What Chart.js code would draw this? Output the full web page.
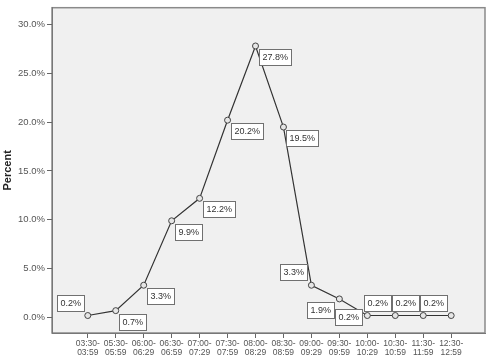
<!DOCTYPE html>
<html>
<head>
<meta charset="utf-8">
<script src="https://cdn.jsdelivr.net/npm/chart.js@4"></script>
<style>
  html, body { margin: 0; padding: 0; background: #fff; }
  #wrap { width: 490px; height: 360px; }
</style>
</head>
<body>
<div id="wrap"><canvas id="grafico"></canvas></div>
<script>
// dados
const inicio = ["03:30", "05:30", "06:00", "06:30", "07:00", "07:30", "08:00", "08:30", "09:00", "09:30", "10:00", "10:30", "11:30", "12:30"];
const fim = ["03:59", "05:59", "06:29", "06:59", "07:29", "07:59", "08:29", "08:59", "09:29", "09:59", "10:29", "10:59", "11:59", "12:59"];
const percentuais = [0.2, 0.7, 3.3, 9.9, 12.2, 20.2, 27.8, 19.5, 3.3, 1.9, 0.2, 0.2, 0.2, 0.2];
const ticksY = [0, 5, 10, 15, 20, 25, 30];

// posição de cada rótulo em relação ao ponto
const ladoRotulo = ["nw", "se", "se", "se", "se", "se", "se", "se", "nw", "sw", "w", "nw", "nw", "nw"];

const fonte = "'Liberation Sans', Arial, sans-serif";

const fundoPlot = {
  id: "fundoPlot",
  beforeDraw(chart) {
    const { ctx, chartArea: a } = chart;
    ctx.save();
    ctx.fillStyle = "#f0f0f0";
    ctx.fillRect(a.left, a.top, a.right - a.left, a.bottom - a.top);
    ctx.strokeStyle = "#8a8a8a";
    ctx.lineWidth = 1.5;
    ctx.strokeRect(a.left, a.top, a.right - a.left, a.bottom - a.top);
    ctx.restore();
  }
};

const rotulos = {
  id: "rotulos",
  afterDatasetsDraw(chart) {
    const { ctx } = chart;
    const meta = chart.getDatasetMeta(0);
    ctx.save();
    ctx.font = "9px " + fonte;
    ctx.textBaseline = "middle";
    ctx.textAlign = "left";
    meta.data.forEach((p, i) => {
      const txt = percentuais[i].toFixed(1) + "%";
      const w = Math.round(ctx.measureText(txt).width) + 6;
      const h = 16;
      const lado = ladoRotulo[i];
      let x, y;
      if (lado === "se") { x = p.x + 3; y = p.y + 3; }
      else if (lado === "nw") { x = p.x - 4 - w; y = p.y - 5 - h; }
      else if (lado === "sw") { x = p.x - 5 - w; y = p.y + 3; }
      else { x = p.x - 5 - w; y = p.y - 7; }
      x = Math.round(x) + 0.5;
      y = Math.round(y) + 0.5;
      ctx.fillStyle = "#ffffff";
      ctx.fillRect(x, y, w, h);
      ctx.strokeStyle = "#707070";
      ctx.lineWidth = 1;
      ctx.strokeRect(x, y, w, h);
      ctx.fillStyle = "#333333";
      ctx.fillText(txt, x + 3, y + h / 2 + 0.5);
    });
    ctx.restore();
  }
};

const ctx = document.getElementById("grafico").getContext("2d");
new Chart(ctx, {
  type: "line",
  data: {
    datasets: [{
      data: percentuais.map((v, i) => ({ x: i, y: v })),
      borderColor: "#333333",
      borderWidth: 1.2,
      pointRadius: 3,
      pointBorderWidth: 1,
      pointBorderColor: "#444444",
      pointBackgroundColor: "#e6e6e6",
      tension: 0,
      fill: false
    }]
  },
  options: {
    responsive: true,
    maintainAspectRatio: false,
    animation: false,
    layout: { padding: { top: 4, right: 3, left: 1, bottom: 0 } },
    plugins: {
      legend: { display: false },
      tooltip: { enabled: false }
    },
    scales: {
      x: {
        type: "linear",
        min: -1.28,
        max: 14.21,
        afterBuildTicks: s => { s.ticks = inicio.map((_, i) => ({ value: i })); },
        afterFit: s => { s.height = 27; },
        grid: { drawOnChartArea: false, drawTicks: true, tickLength: 5, color: "#666" },
        border: { display: true, color: "#777", width: 1 },
        ticks: {
          autoSkip: false,
          maxRotation: 0,
          padding: 1,
          color: "#555",
          font: { family: fonte, size: 8.5, lineHeight: 1.05 },
          callback: v => [inicio[v] + "-", fim[v]]
        }
      },
      y: {
        min: -1.59,
        max: 31.72,
        afterBuildTicks: s => { s.ticks = ticksY.map(v => ({ value: v })); },
        afterFit: s => { s.width = 51; },
        grid: { drawOnChartArea: false, drawTicks: true, tickLength: 5, color: "#666" },
        border: { display: true, color: "#777", width: 1 },
        ticks: {
          padding: 2,
          color: "#555",
          font: { family: fonte, size: 9.5 },
          callback: v => v.toFixed(1) + "%"
        },
        title: {
          display: true,
          text: "Percent",
          color: "#222",
          padding: 0,
          font: { family: fonte, size: 11, weight: "bold" }
        }
      }
    }
  },
  plugins: [fundoPlot, rotulos]
});
</script>
</body>
</html>
